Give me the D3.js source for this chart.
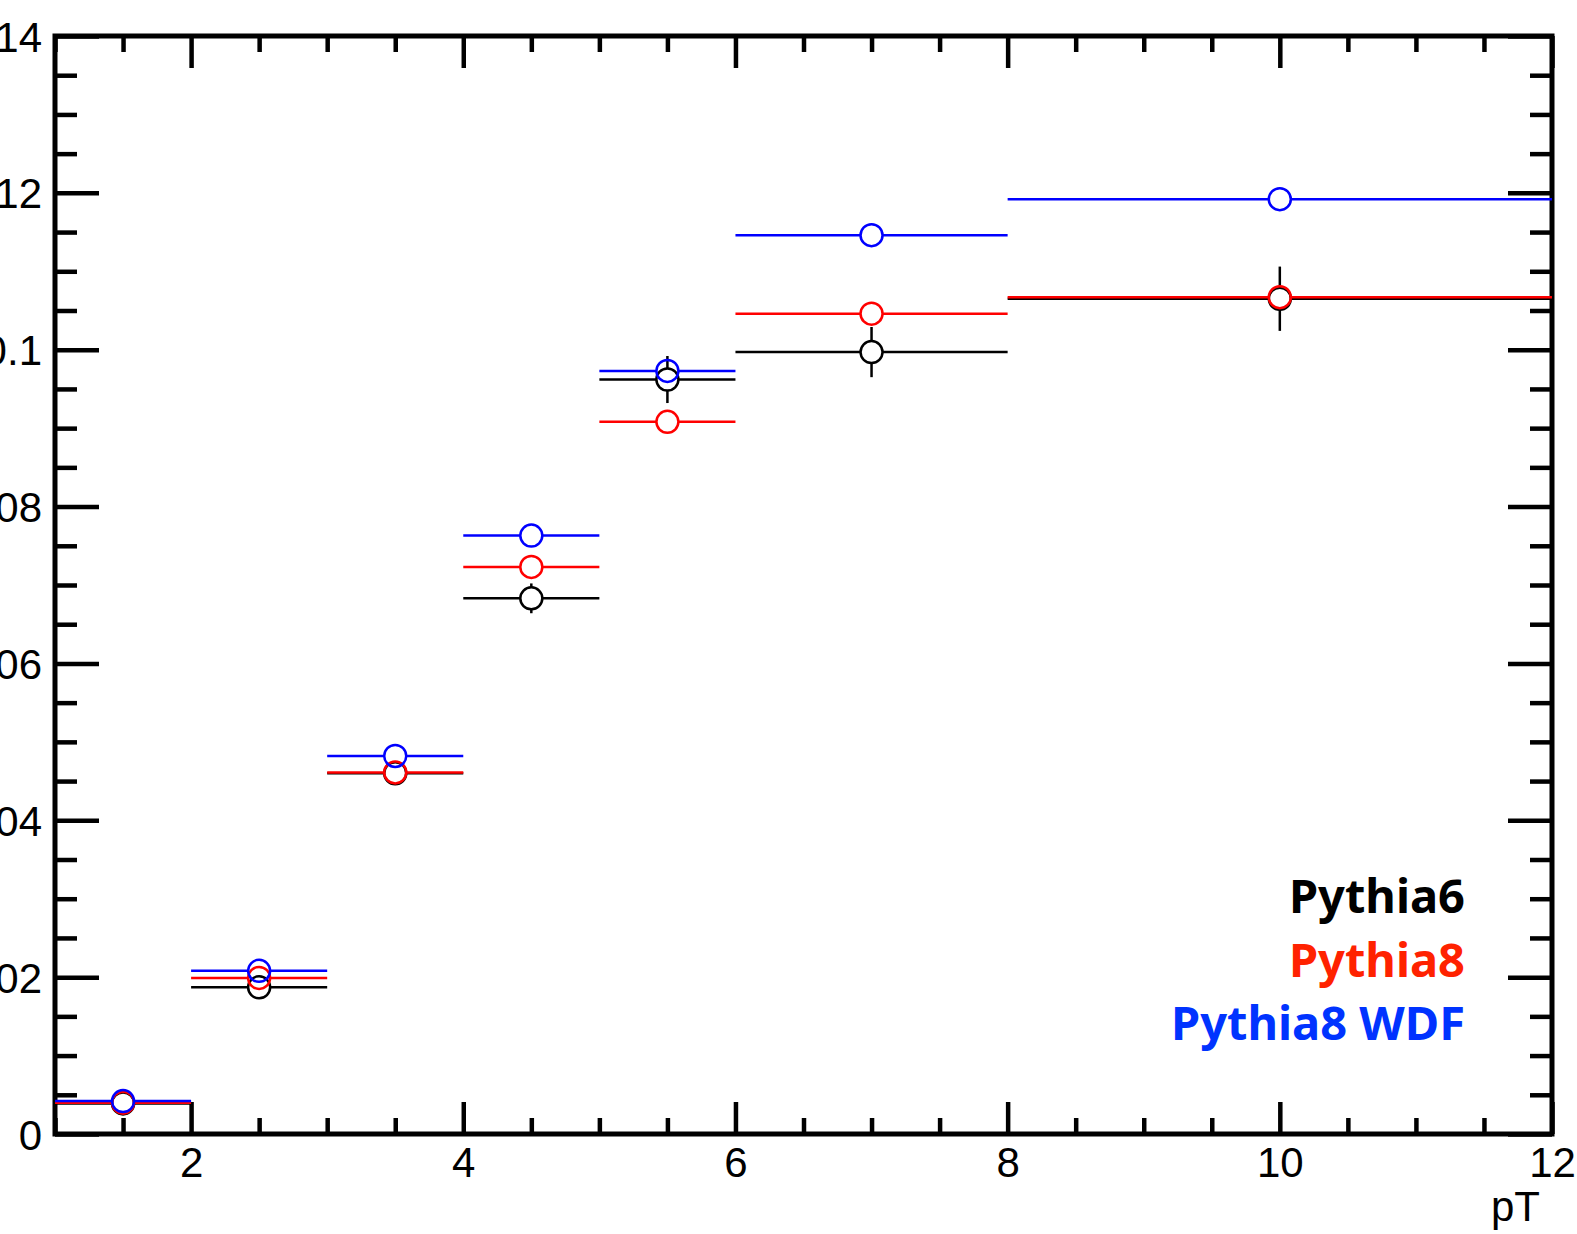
<!DOCTYPE html>
<html>
<head>
<meta charset="utf-8">
<script src="https://cdn.jsdelivr.net/npm/d3@7"></script>
<style>
  html, body { margin: 0; padding: 0; background: #fff; }
  svg { display: block; }
</style>
</head>
<body>
<svg id="chart" width="1577" height="1234"></svg>
<script>
// pT bin edges (GeV) and the three generator curves
const binEdges = [1, 2, 3, 4, 5, 6, 8, 12];
const pythia6 = [0.0039, 0.0187, 0.0460, 0.0683, 0.0962, 0.0997, 0.1065];
const pythia6Err = [0.0003, 0.0008, 0.0012, 0.0019, 0.0030, 0.0032, 0.0041];
const pythia8 = [0.0040, 0.0199, 0.0461, 0.0723, 0.0908, 0.1046, 0.1067];
const pythia8WDF = [0.0042, 0.0208, 0.0482, 0.0763, 0.0973, 0.1146, 0.1192];

const xMajorTicks = [2, 4, 6, 8, 10, 12];
const yMajorTicks = [0, 0.02, 0.04, 0.06, 0.08, 0.1, 0.12, 0.14];
const yTickLabels = ["0", "0.02", "0.04", "0.06", "0.08", "0.1", "0.12", "0.14"];
const seriesNames = ["Pythia6", "Pythia8", "Pythia8 WDF"];

const svg = d3.select("#chart");
const frame = { left: 55, right: 1552, top: 36, bottom: 1134 };

const x = d3.scaleLinear().domain([1, 12]).range([frame.left, frame.right]);
const y = d3.scaleLinear().domain([0, 0.14]).range([frame.bottom, frame.top]);

const xMinorTicks = d3.range(1, 12.001, 0.5).filter(v => !xMajorTicks.includes(v));
const yMinorTicks = d3.range(0, 0.1401, 0.005).map(v => +v.toFixed(3))
  .filter(v => !yMajorTicks.some(m => Math.abs(m - v) < 1e-9));

const font = "'Liberation Sans', Arial, Helvetica, sans-serif";

// axes with inward ticks on all four sides
function addAxis(axis, transform) {
  const g = svg.append("g").attr("transform", transform).call(axis);
  g.select(".domain").remove();
  g.selectAll(".tick line").attr("stroke", "#000").attr("stroke-width", 4.5);
  g.selectAll(".tick text").attr("font-family", font).attr("font-size", 42).attr("fill", "#000");
  return g;
}

const bottomMajor = addAxis(
  d3.axisBottom(x).tickValues(xMajorTicks).tickSize(-32).tickPadding(0).tickFormat(d3.format("d")),
  `translate(0,${frame.bottom})`);
bottomMajor.selectAll(".tick text").attr("y", 43).attr("dy", 0);
addAxis(d3.axisBottom(x).tickValues(xMinorTicks).tickSize(-16).tickFormat(""), `translate(0,${frame.bottom})`);
addAxis(d3.axisTop(x).tickValues(xMajorTicks).tickSize(-32).tickFormat(""), `translate(0,${frame.top})`);
addAxis(d3.axisTop(x).tickValues(xMinorTicks).tickSize(-16).tickFormat(""), `translate(0,${frame.top})`);

const leftMajor = addAxis(
  d3.axisLeft(y).tickValues(yMajorTicks).tickSize(-44).tickPadding(0)
    .tickFormat((d, i) => yTickLabels[i]),
  `translate(${frame.left},0)`);
leftMajor.selectAll(".tick text").attr("x", -13).attr("dy", "0.36em").attr("text-anchor", "end");
addAxis(d3.axisLeft(y).tickValues(yMinorTicks).tickSize(-22).tickFormat(""), `translate(${frame.left},0)`);
addAxis(d3.axisRight(y).tickValues(yMajorTicks).tickSize(-44).tickFormat(""), `translate(${frame.right},0)`);
addAxis(d3.axisRight(y).tickValues(yMinorTicks).tickSize(-22).tickFormat(""), `translate(${frame.right},0)`);

// frame
svg.append("rect")
  .attr("x", frame.left).attr("y", frame.top)
  .attr("width", frame.right - frame.left).attr("height", frame.bottom - frame.top)
  .attr("fill", "none").attr("stroke", "#000").attr("stroke-width", 5);

// x-axis title
svg.append("text")
  .attr("x", 1540).attr("y", 1221)
  .attr("text-anchor", "end")
  .attr("font-family", font).attr("font-size", 42)
  .text("pT");

// histogram-style points: bin-width bar, open circle at centre, vertical error
const r = 11;
const series = [
  { values: pythia6, errors: pythia6Err, color: "#000000" },
  { values: pythia8, errors: null, color: "#ff0000" },
  { values: pythia8WDF, errors: null, color: "#0000ff" }
];

series.forEach(s => {
  const g = svg.append("g").attr("stroke", s.color).attr("stroke-width", 2.5).attr("fill", "none");
  s.values.forEach((v, i) => {
    const x0 = x(binEdges[i]), x1 = x(binEdges[i + 1]);
    const xc = x((binEdges[i] + binEdges[i + 1]) / 2);
    const yc = y(v);
    g.append("line").attr("x1", x0).attr("x2", xc - r).attr("y1", yc).attr("y2", yc);
    g.append("line").attr("x1", xc + r).attr("x2", x1).attr("y1", yc).attr("y2", yc);
    if (s.errors) {
      const yHi = y(v + s.errors[i]), yLo = y(v - s.errors[i]);
      if (yc - yHi > r) g.append("line").attr("x1", xc).attr("x2", xc).attr("y1", yHi).attr("y2", yc - r);
      if (yLo - yc > r) g.append("line").attr("x1", xc).attr("x2", xc).attr("y1", yc + r).attr("y2", yLo);
    }
    g.append("circle").attr("cx", xc).attr("cy", yc).attr("r", r);
  });
});

// legend
const legendColors = ["#000000", "#ff2200", "#0033ff"];
const legendBaselines = [913, 976.5, 1040];
seriesNames.forEach((name, i) => {
  svg.append("text")
    .attr("x", 1465).attr("y", legendBaselines[i])
    .attr("text-anchor", "end")
    .attr("font-family", "'Noto Sans', 'Open Sans', sans-serif")
    .attr("font-weight", "bold")
    .attr("font-size", 47)
    .attr("fill", legendColors[i])
    .text(name);
});
</script>
</body>
</html>
